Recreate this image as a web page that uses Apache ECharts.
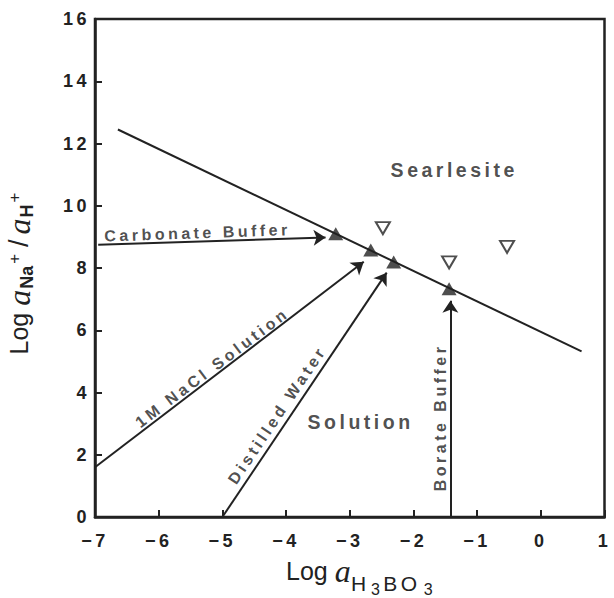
<!DOCTYPE html>
<html>
<head>
<meta charset="utf-8">
<script src="https://cdn.jsdelivr.net/npm/echarts@6/dist/echarts.min.js"></script>
<style>
  html, body { margin: 0; padding: 0; background: #fff; }
  #chart { width: 614px; height: 598px; }
  /* wide tracking for tick labels and in-plot labels; axis title words keep normal spacing */
  #chart svg text { letter-spacing: 3.5px; }
  #chart svg text[style*="serif"] { letter-spacing: 0; }
</style>
</head>
<body>
<div id="chart"></div>
<script>
// Axis ranges (log activity units)
const xMin = -7, xMax = 1, xStep = 1;
const yMin = 0, yMax = 16, yStep = 2;

// Searlesite / solution boundary
const boundaryX = [-6.64, 0.64];
const boundaryY = [12.45, 5.32];

// Measured equilibrium points (filled) and supersaturated starts (open)
const filledX = [-3.22, -2.67, -2.31, -1.44];
const filledY = [9.10, 8.58, 8.19, 7.33];
const openX = [-2.48, -1.44, -0.53];
const openY = [9.28, 8.18, 8.68];

// Reaction paths drawn as arrows
const pathNames  = ['Carbonate Buffer', '1M NaCl Solution', 'Distilled Water', 'Borate Buffer'];
const pathStartX = [-6.95, -7.0, -5.0, -1.42];
const pathStartY = [8.75, 1.6, 0.0, 0.0];
const pathEndX   = [-3.38, -2.78, -2.42, -1.42];
const pathEndY   = [8.98, 8.20, 7.85, 6.95];
const pathLabelX = [-5.39, -5.16, -4.14, -1.58];
const pathLabelY = [9.13, 4.80, 3.28, 3.20];
const pathLabelAngle = [2, 37, 56, 90];

// Field names
const fieldNames = ['Searlesite', 'Solution'];
const fieldX = [-1.36, -2.83];
const fieldY = [11.16, 3.05];

const ink = '#222';
const sans = 'Liberation Sans, sans-serif';
const serif = 'Liberation Serif, serif';
const tickFont = { fontFamily: 'Liberation Sans', fontWeight: 'bold', fontSize: 18, color: ink };
const minus = v => String(v).replace('-', '\u2212');

const chart = echarts.init(document.getElementById('chart'), null, { renderer: 'svg' });

const pathData = pathNames.map((n, i) => ({
  name: n,
  coords: [[pathStartX[i], pathStartY[i]], [pathEndX[i], pathEndY[i]]]
}));

const textData = pathNames.map((n, i) => ({
  name: n,
  value: [pathLabelX[i], pathLabelY[i]],
  label: { rotate: pathLabelAngle[i], fontSize: 16 }
})).concat(fieldNames.map((n, i) => ({
  name: n,
  value: [fieldX[i], fieldY[i]],
  label: { fontSize: 19.5 }
})));

chart.setOption({
  animation: false,
  grid: {
    left: 95, right: 9.5, top: 19, bottom: 81,
    outerBoundsMode: 'none',
    show: true, borderColor: ink, borderWidth: 2.5, backgroundColor: 'transparent'
  },
  xAxis: {
    type: 'value', min: xMin, max: xMax, interval: xStep,
    axisLine: { show: true, onZero: false, lineStyle: { color: ink, width: 2.5 } },
    axisTick: { show: true, inside: true, length: 7, lineStyle: { color: ink, width: 2 } },
    axisLabel: Object.assign({ margin: 15, formatter: minus }, tickFont),
    splitLine: { show: false },
    name: '{m|Log }{a|a}{h|H}{t|3}{b|BO}{t|3}',
    nameLocation: 'middle', nameGap: 28,
    nameTextStyle: {
      padding: [0, 0, 0, 26],
      rich: {
        m: { fontFamily: sans, fontSize: 25, color: ink },
        a: { fontFamily: serif, fontStyle: 'italic', fontSize: 32, color: ink, padding: [0, 2, 0, 0] },
        h: { fontFamily: 'Liberation Sans', fontSize: 21, color: ink, padding: [24, 5, 0, 0] },
        b: { fontFamily: 'Liberation Sans', fontSize: 21, color: ink, padding: [24, 8.5, 0, 0] },
        t: { fontFamily: 'Liberation Sans', fontSize: 16, color: ink, padding: [36, 5, 0, 0] }
      }
    }
  },
  yAxis: {
    type: 'value', min: yMin, max: yMax, interval: yStep,
    axisLine: { show: true, onZero: false, lineStyle: { color: ink, width: 2.5 } },
    axisTick: { show: true, inside: true, length: 7, lineStyle: { color: ink, width: 2 } },
    axisLabel: Object.assign({ margin: 5, formatter: minus }, tickFont),
    splitLine: { show: false },
    name: '{m|Log }{a|a}{s|Na}{p|+}{sl|/}{a|a}{s|H}{p|+}',
    nameLocation: 'middle', nameGap: 59, nameRotate: 90,
    nameTextStyle: {
      padding: [0, 6, 0, 0],
      rich: {
        m: { fontFamily: sans, fontSize: 25, color: ink },
        a: { fontFamily: serif, fontStyle: 'italic', fontSize: 32, color: ink, padding: [0, 1, 0, 0] },
        s: { fontFamily: sans, fontWeight: 'bold', fontSize: 18, color: ink, padding: [16, 1, 0, 0] },
        p: { fontFamily: sans, fontSize: 17, color: ink, padding: [0, 5, 10, 1] },
        sl: { fontFamily: sans, fontSize: 27, color: ink, padding: [0, 5, 0, 2] }
      }
    }
  },
  series: [
    {
      type: 'line',
      data: boundaryX.map((x, i) => [x, boundaryY[i]]),
      showSymbol: false, silent: true,
      lineStyle: { color: ink, width: 2 }
    },
    {
      type: 'lines',
      coordinateSystem: 'cartesian2d',
      data: pathData,
      symbol: ['none', 'arrow'],
      symbolSize: 12,
      silent: true,
      lineStyle: { color: ink, width: 2, opacity: 1 }
    },
    {
      type: 'scatter',
      data: openX.map((x, i) => [x, openY[i]]),
      symbol: 'triangle', symbolRotate: 180, symbolSize: [14, 12],
      itemStyle: { color: '#fff', borderColor: ink, borderWidth: 2 },
      silent: true, z: 5
    },
    {
      type: 'scatter',
      data: filledX.map((x, i) => [x, filledY[i]]),
      symbol: 'triangle', symbolSize: [15, 13],
      itemStyle: { color: ink },
      silent: true, z: 6
    },
    {
      type: 'scatter',
      data: textData,
      symbolSize: 0, silent: true, z: 7,
      label: {
        show: true, position: 'inside', formatter: '{b}',
        fontFamily: 'Liberation Sans', fontWeight: 'bold', color: ink
      },
      labelLayout: { hideOverlap: false }
    }
  ]
});
</script>
</body>
</html>
